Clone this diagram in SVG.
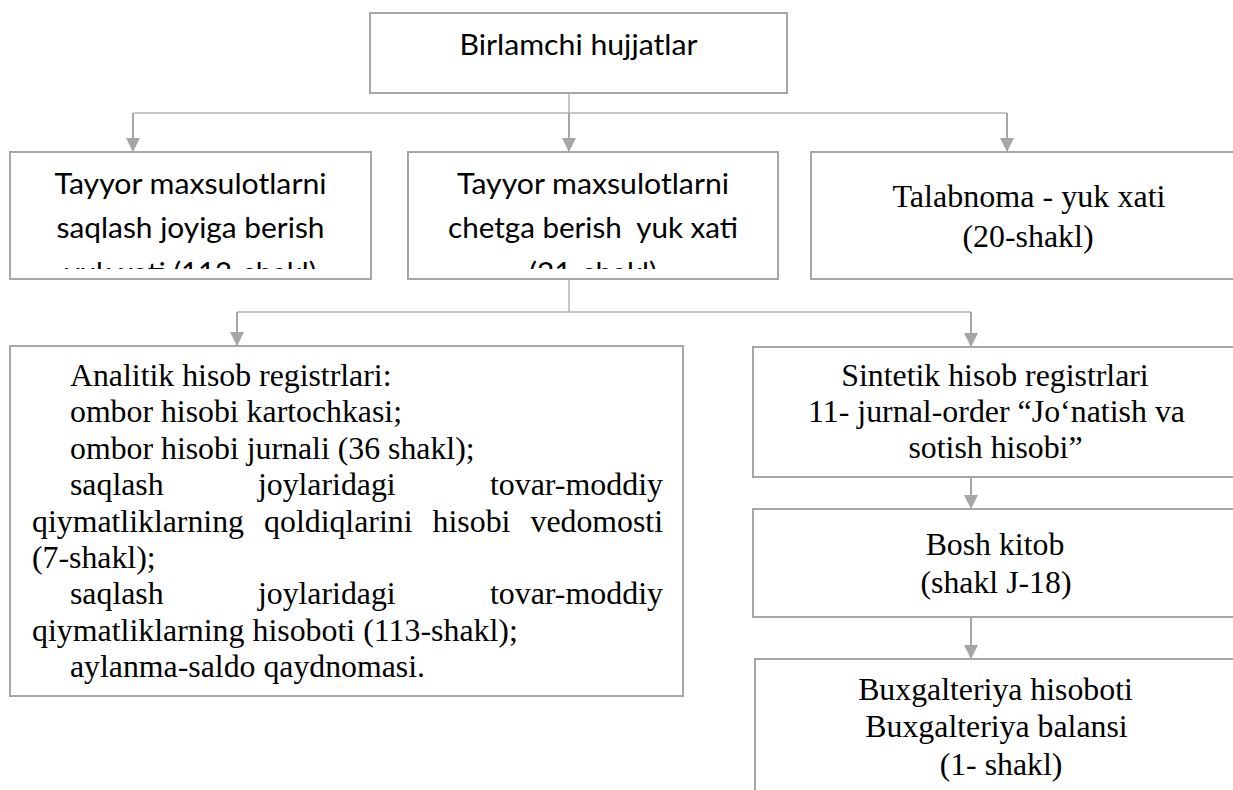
<svg xmlns="http://www.w3.org/2000/svg" width="1233" height="790" viewBox="0 0 1233 790">
<style>
.box{fill:#ffffff;stroke:#a6a6a6;stroke-width:2}
.sans{font-family:Lato,"Open Sans","DejaVu Sans",sans-serif;font-size:29px;fill:#000}
.serif{font-family:"Liberation Serif",Tinos,"Times New Roman","DejaVu Serif","Noto Serif",serif;font-size:31.8px;fill:#000}
.mid{text-anchor:middle}
.end{text-anchor:end}
.ln{fill:none;stroke:#b4b4b4;stroke-width:1.5}
.ar{fill:none;stroke:#a6a6a6;stroke-width:2}
</style>
<defs>
<marker id="ah" viewBox="0 0 10 10" refX="10" refY="5" markerWidth="14" markerHeight="15" markerUnits="userSpaceOnUse" orient="auto">
<path d="M0,0 L10,5 L0,10 z" fill="#a6a6a6"/>
</marker>
<clipPath id="c2"><rect x="10" y="152" width="361" height="117"/></clipPath>
<clipPath id="c3"><rect x="408" y="152" width="370" height="117"/></clipPath>
</defs>
<rect width="1233" height="790" fill="#ffffff"/>
<g id="connectors">
<line class="ln" x1="569" y1="93" x2="569" y2="113"/>
<line class="ln" x1="133" y1="113" x2="1007" y2="113"/>
<line class="ar" x1="133" y1="113" x2="133" y2="152" marker-end="url(#ah)"/>
<line class="ar" x1="569" y1="113" x2="569" y2="152" marker-end="url(#ah)"/>
<line class="ar" x1="1007" y1="113" x2="1007" y2="152" marker-end="url(#ah)"/>
<line class="ln" x1="569" y1="279" x2="569" y2="312"/>
<line class="ln" x1="237" y1="312" x2="971" y2="312"/>
<line class="ar" x1="237" y1="312" x2="237" y2="346" marker-end="url(#ah)"/>
<line class="ar" x1="971" y1="312" x2="971" y2="347" marker-end="url(#ah)"/>
<line class="ar" x1="971" y1="477" x2="971" y2="509" marker-end="url(#ah)"/>
<line class="ar" x1="971" y1="617" x2="971" y2="659" marker-end="url(#ah)"/>
</g>
<g id="n-birlamchi">
<rect class="box" x="370" y="13" width="417" height="80"/>
<text class="sans mid" x="578.5" y="55" textLength="238" lengthAdjust="spacingAndGlyphs">Birlamchi hujjatlar</text>
</g>
<g id="n-saqlash">
<rect class="box" x="10" y="152" width="361" height="127"/>
<g clip-path="url(#c2)">
<text class="sans mid" x="190.5" y="194" textLength="272" lengthAdjust="spacingAndGlyphs">Tayyor maxsulotlarni</text>
<text class="sans mid" x="190.5" y="238" textLength="268" lengthAdjust="spacingAndGlyphs">saqlash joyiga berish</text>
<text class="sans mid" x="190.5" y="283" textLength="252" lengthAdjust="spacingAndGlyphs">yuk xati (112-shakl)</text>
</g>
</g>
<g id="n-chetga">
<rect class="box" x="408" y="152" width="370" height="127"/>
<g clip-path="url(#c3)">
<text class="sans mid" x="593" y="194" textLength="272" lengthAdjust="spacingAndGlyphs">Tayyor maxsulotlarni</text>
<text class="sans mid" x="593" y="238" textLength="290" lengthAdjust="spacingAndGlyphs" xml:space="preserve">chetga berish  yuk xati</text>
<text class="sans mid" x="593" y="283" textLength="128" lengthAdjust="spacingAndGlyphs">(21-shakl)</text>
</g>
</g>
<g id="n-talabnoma">
<rect class="box" x="811" y="152" width="440" height="127"/>
<text class="serif mid" x="1029" y="207" textLength="273" lengthAdjust="spacingAndGlyphs">Talabnoma - yuk xati</text>
<text class="serif mid" x="1028" y="247" textLength="131" lengthAdjust="spacingAndGlyphs">(20-shakl)</text>
</g>
<g id="n-analitik">
<rect class="box" x="10" y="346" width="673" height="350"/>
<text class="serif" x="70" y="386" textLength="321.5" lengthAdjust="spacingAndGlyphs">Analitik hisob registrlari:</text>
<text class="serif" x="70" y="422.4" textLength="332" lengthAdjust="spacingAndGlyphs">ombor hisobi kartochkasi;</text>
<text class="serif" x="70" y="458.8" textLength="404.6" lengthAdjust="spacingAndGlyphs">ombor hisobi jurnali (36 shakl);</text>
<text class="serif" x="70" y="495.2" textLength="93.6" lengthAdjust="spacingAndGlyphs">saqlash</text>
<text class="serif" x="257.9" y="495.2" textLength="137.8" lengthAdjust="spacingAndGlyphs">joylaridagi</text>
<text class="serif" x="489.9" y="495.2" textLength="173.1" lengthAdjust="spacingAndGlyphs">tovar-moddiy</text>
<text class="serif" x="32" y="531.6" textLength="212" lengthAdjust="spacingAndGlyphs">qiymatliklarning</text>
<text class="serif" x="264.1" y="531.6" textLength="148.4" lengthAdjust="spacingAndGlyphs">qoldiqlarini</text>
<text class="serif" x="432.6" y="531.6" textLength="77.8" lengthAdjust="spacingAndGlyphs">hisobi</text>
<text class="serif" x="530.5" y="531.6" textLength="132.5" lengthAdjust="spacingAndGlyphs">vedomosti</text>
<text class="serif" x="32" y="568" textLength="123.6" lengthAdjust="spacingAndGlyphs">(7-shakl);</text>
<text class="serif" x="70" y="604.4" textLength="93.6" lengthAdjust="spacingAndGlyphs">saqlash</text>
<text class="serif" x="257.9" y="604.4" textLength="137.8" lengthAdjust="spacingAndGlyphs">joylaridagi</text>
<text class="serif" x="489.9" y="604.4" textLength="173.1" lengthAdjust="spacingAndGlyphs">tovar-moddiy</text>
<text class="serif" x="32" y="640.8" textLength="485.8" lengthAdjust="spacingAndGlyphs">qiymatliklarning hisoboti (113-shakl);</text>
<text class="serif" x="70" y="677.2" textLength="355" lengthAdjust="spacingAndGlyphs">aylanma-saldo qaydnomasi.</text>
</g>
<g id="n-sintetik">
<rect class="box" x="753" y="347" width="485" height="130"/>
<text class="serif mid" x="995" y="386" textLength="307.4" lengthAdjust="spacingAndGlyphs">Sintetik hisob registrlari</text>
<text class="serif mid" x="996.5" y="422" textLength="377" lengthAdjust="spacingAndGlyphs">11- jurnal-order “Jo‘natish va</text>
<text class="serif mid" x="995.5" y="458" textLength="174" lengthAdjust="spacingAndGlyphs">sotish hisobi”</text>
</g>
<g id="n-bosh">
<rect class="box" x="753" y="509" width="485" height="108"/>
<text class="serif mid" x="995" y="555" textLength="138.7" lengthAdjust="spacingAndGlyphs">Bosh kitob</text>
<text class="serif mid" x="996" y="593" textLength="151" lengthAdjust="spacingAndGlyphs">(shakl J-18)</text>
</g>
<g id="n-buxgalteriya">
<rect class="box" x="755" y="659" width="483" height="150"/>
<text class="serif mid" x="995.5" y="700" textLength="274.7" lengthAdjust="spacingAndGlyphs">Buxgalteriya hisoboti</text>
<text class="serif mid" x="996.5" y="737" textLength="262.3" lengthAdjust="spacingAndGlyphs">Buxgalteriya balansi</text>
<text class="serif mid" x="1001" y="775" textLength="122.7" lengthAdjust="spacingAndGlyphs">(1- shakl)</text>
</g>
</svg>
